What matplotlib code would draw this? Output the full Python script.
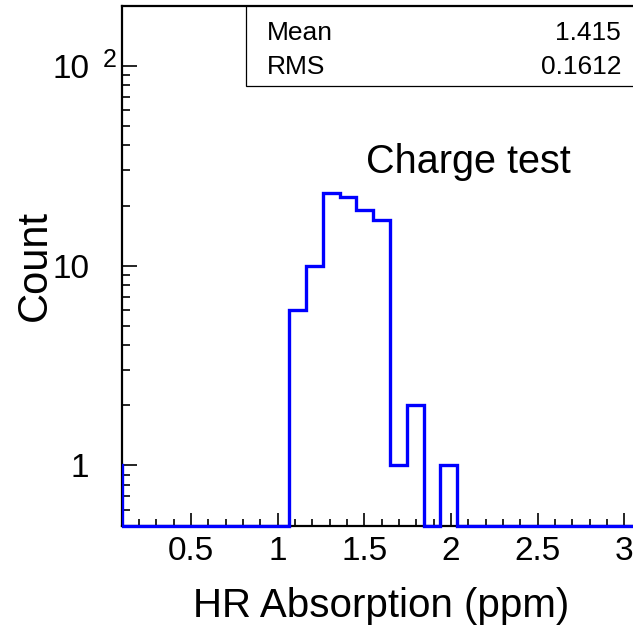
import numpy as np
import matplotlib
matplotlib.use("Agg")
import matplotlib.pyplot as plt
from matplotlib.ticker import FixedLocator, MultipleLocator, LogLocator, NullFormatter
from matplotlib.patches import Rectangle
import matplotlib.transforms as mtransforms

plt.rcParams['font.family'] = ['Liberation Sans', 'DejaVu Sans']

# ---------------- data ----------------
x_min, x_max, n_bins = 0.1, 3.1, 31
underflow_count = 1          # bin just left of the visible range
counts = [0, 0, 0, 0, 0, 0, 0, 0, 0, 0,
          6, 10, 23, 22, 19, 17, 1, 2, 0, 1,
          0, 0, 0, 0, 0, 0, 0, 0, 0, 0, 0]
x_ticks = [0.5, 1.0, 1.5, 2.0, 2.5, 3.0]
x_tick_labels = ['0.5', '1', '1.5', '2', '2.5', '3']
y_ticks = [1, 10, 100]
y_tick_labels = ['1', '10', '10']
stat_names = ['Mean', 'RMS']
stat_values = ['1.415', '0.1612']
title_text = 'Charge test'
x_label = 'HR Absorption (ppm)'
y_label = 'Count'
y_min, y_max = 0.5, 199

# ---------------- figure ----------------
W, H = 633, 625
fig = plt.figure(figsize=(W / 100, H / 100), dpi=100)
ax_l, ax_r, ax_t, ax_b = 121.7, 641.6, 6.3, 525.5
ax = fig.add_axes([ax_l / W, 1 - ax_b / H, (ax_r - ax_l) / W, (ax_b - ax_t) / H])

width = (x_max - x_min) / n_bins
edges = x_min - width + width * np.arange(n_bins + 2)
vals = np.array([underflow_count] + counts, dtype=float)
plot_vals = np.maximum(vals, y_min)

st = ax.stairs(plot_vals, edges, baseline=None, color='#0000ff', lw=2.4, zorder=5)
clip = Rectangle((0, -0.02), 1.0, 1.04, transform=ax.transAxes, fill=False, visible=False)
ax.add_patch(clip)
st.set_clip_path(clip)

ax.set_yscale('log')
ax.set_xlim(x_min, x_max)
ax.set_ylim(y_min, y_max)

for s in ['left', 'bottom', 'top']:
    ax.spines[s].set_linewidth(1.6)
ax.spines['right'].set_visible(False)

ax.xaxis.set_major_locator(FixedLocator(x_ticks))
ax.set_xticklabels(x_tick_labels)
ax.xaxis.set_minor_locator(MultipleLocator(0.1))
ax.yaxis.set_major_locator(FixedLocator(y_ticks))
ax.set_yticklabels(y_tick_labels)
ax.yaxis.set_minor_locator(LogLocator(base=10, subs=np.arange(2, 10)))
ax.yaxis.set_minor_formatter(NullFormatter())

ax.tick_params(axis='x', which='major', direction='in', length=9.5, width=1.2,
               labelsize=24, pad=7.5, top=False)
ax.tick_params(axis='x', which='minor', direction='in', length=4.8, width=1.2, top=False)
ax.tick_params(axis='y', which='major', direction='in', length=11, width=1.2,
               labelsize=24, pad=23.5, right=False)
ax.tick_params(axis='y', which='minor', direction='in', length=5.8, width=1.2, right=False)

# superscript of 10^2
sup_tr = mtransforms.offset_copy(ax.get_yaxis_transform(), fig=fig, x=0, y=-5.7, units='dots')
ax.text((103 - ax_l) / (ax_r - ax_l), y_ticks[-1], '2', transform=sup_tr,
        fontsize=18, ha='left', va='bottom')

# axis labels
ax.set_xlabel(x_label, fontsize=29)
ax.xaxis.label.set_va('baseline')
ax.xaxis.set_label_coords((381 - ax_l) / (ax_r - ax_l), -(617 - ax_b) / (ax_b - ax_t))
ax.set_ylabel(y_label, fontsize=30, rotation_mode='anchor', ha='center', va='baseline')
ax.yaxis.set_label_coords(-(ax_l - 46) / (ax_r - ax_l), 0.5)

# title text
fig.text(366 / W, 1 - 172.7 / H, title_text, fontsize=28.5, ha='left', va='baseline')

# stats box
box = Rectangle((245.7 / W, 1 - 86 / H), 1.0, (86 - ax_t) / H, transform=fig.transFigure,
                fill=True, facecolor='white', edgecolor='black', lw=0.9, zorder=10)
fig.patches.append(box)
for i, (n, v) in enumerate(zip(stat_names, stat_values)):
    yb = 1 - (40 + 34 * i) / H
    fig.text(266.7 / W, yb, n, fontsize=19, ha='left', va='baseline', zorder=11)
    fig.text(621 / W, yb, v, fontsize=19, ha='right', va='baseline', zorder=11)

fig.savefig('out.png', dpi=100)
